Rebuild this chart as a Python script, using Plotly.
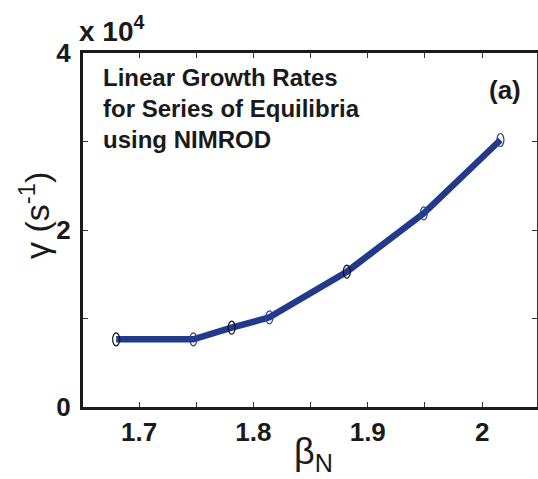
import plotly.graph_objects as go

# Linear growth rate vs normalized beta (NIMROD equilibrium scan)
beta_n = [1.680, 1.7475, 1.781, 1.814, 1.8817, 1.949, 2.016]
gamma = [7650, 7650, 8960, 10130, 15290, 21880, 30170]  # s^-1
marker_edge = ["#111111", "#2b3f9e", "#111111", "#2b3f9e", "#111111", "#2b3f9e", "#2b3f9e"]

x_ticks = [1.7, 1.8, 1.9, 2.0]
x_ticktext = ["1.7", "1.8", "1.9", "2"]
y_ticks = [0, 2, 4]
y_ticktext = ["0", "2", "4"]

W, H = 538, 479
L, R, T, B = 83, 1, 53, 72
PW, PH = W - L - R, H - T - B

def px_x(p):
    return (p - L) / PW

def px_y(p):
    return 1 - (p - T) / PH

FONT = "Liberation Sans Narrow, Arial Narrow, Liberation Sans, Arial, sans-serif"
INK = "#1a1a1a"
LINE = "#233a8b"

scale = 1e4
y_vals = [g / scale for g in gamma]

fig = go.Figure()
fig.add_trace(go.Scatter(
    x=beta_n, y=y_vals, mode="lines",
    line=dict(color=LINE, width=6.5),
    hoverinfo="skip", showlegend=False,
))
fig.add_trace(go.Scatter(x=[None], y=[None], yaxis="y2", showlegend=False, hoverinfo="skip"))

# open elliptical markers at each equilibrium
shapes = []
for xv, yv, c in zip(beta_n, y_vals, marker_edge):
    shapes.append(dict(
        type="circle", xref="x", yref="y",
        xsizemode="pixel", ysizemode="pixel",
        xanchor=xv, yanchor=yv,
        x0=-3.5, x1=3.5, y0=-6.5, y1=6.5,
        line=dict(color=c, width=1.2),
        fillcolor="rgba(0,0,0,0)",
    ))

tick_font = dict(family=FONT, size=26, color=INK, weight="bold")

fig.update_layout(
    width=W, height=H,
    margin=dict(l=L, r=R, t=T, b=B),
    paper_bgcolor="white", plot_bgcolor="white",
    shapes=shapes,
    xaxis=dict(
        range=[1.651, 2.048], tickmode="array", tickvals=x_ticks, ticktext=x_ticktext,
        ticks="inside", ticklen=5, tickwidth=1, tickcolor="#333",
        minor=dict(tick0=1.65, dtick=0.05, ticks="inside", ticklen=5,
                   tickwidth=1, tickcolor="#333", showgrid=False),
        showline=True, linewidth=3, linecolor=INK, mirror="ticks",
        showgrid=False, zeroline=False,
        tickfont=tick_font, ticklabelstandoff=0,
    ),
    yaxis=dict(
        range=[0, 4], tickmode="array", tickvals=y_ticks, ticktext=y_ticktext,
        ticks="inside", ticklen=5, tickwidth=1, tickcolor="#333",
        minor=dict(tick0=0, dtick=1, ticks="inside", ticklen=5,
                   tickwidth=1, tickcolor="#333", showgrid=False),
        showline=True, linewidth=3, linecolor=INK,
        showgrid=False, zeroline=False,
        tickfont=tick_font, ticklabelstandoff=4,
    ),
    yaxis2=dict(
        overlaying="y", side="right", range=[0, 4], tickmode="linear", tick0=0, dtick=1,
        showticklabels=False, ticks="inside", ticklen=5, tickwidth=1, tickcolor="#333",
        showline=True, linewidth=1, linecolor="#333",
        showgrid=False, zeroline=False,
    ),
    annotations=[
        dict(text="x 10<sup>4</sup>", xref="paper", yref="paper",
             x=px_x(77), y=px_y(49), xanchor="left", yanchor="bottom", showarrow=False,
             font=dict(family=FONT, size=28, color=INK, weight="bold")),
        dict(text="Linear Growth Rates<br>for Series of Equilibria<br>using NIMROD",
             xref="paper", yref="paper", x=px_x(101), y=px_y(62),
             xanchor="left", yanchor="top", align="left", showarrow=False,
             font=dict(family=FONT, size=24, color=INK, weight="bold")),
        dict(text="(a)", xref="paper", yref="paper", x=px_x(523), y=px_y(73),
             xanchor="right", yanchor="top", showarrow=False,
             font=dict(family=FONT, size=26, color=INK, weight="bold")),
        dict(text="γ (s<sup>-1</sup>)", xref="paper", yref="paper",
             x=px_x(34), y=px_y(216), xanchor="center", yanchor="middle",
             textangle=-90, showarrow=False,
             font=dict(family=FONT, size=34, color=INK)),
        dict(text="β<sub>N</sub>", xref="paper", yref="paper",
             x=px_x(313), y=px_y(454), xanchor="center", yanchor="middle",
             showarrow=False,
             font=dict(family=FONT, size=36, color=INK)),
    ],
)

fig.write_html("out.html")
